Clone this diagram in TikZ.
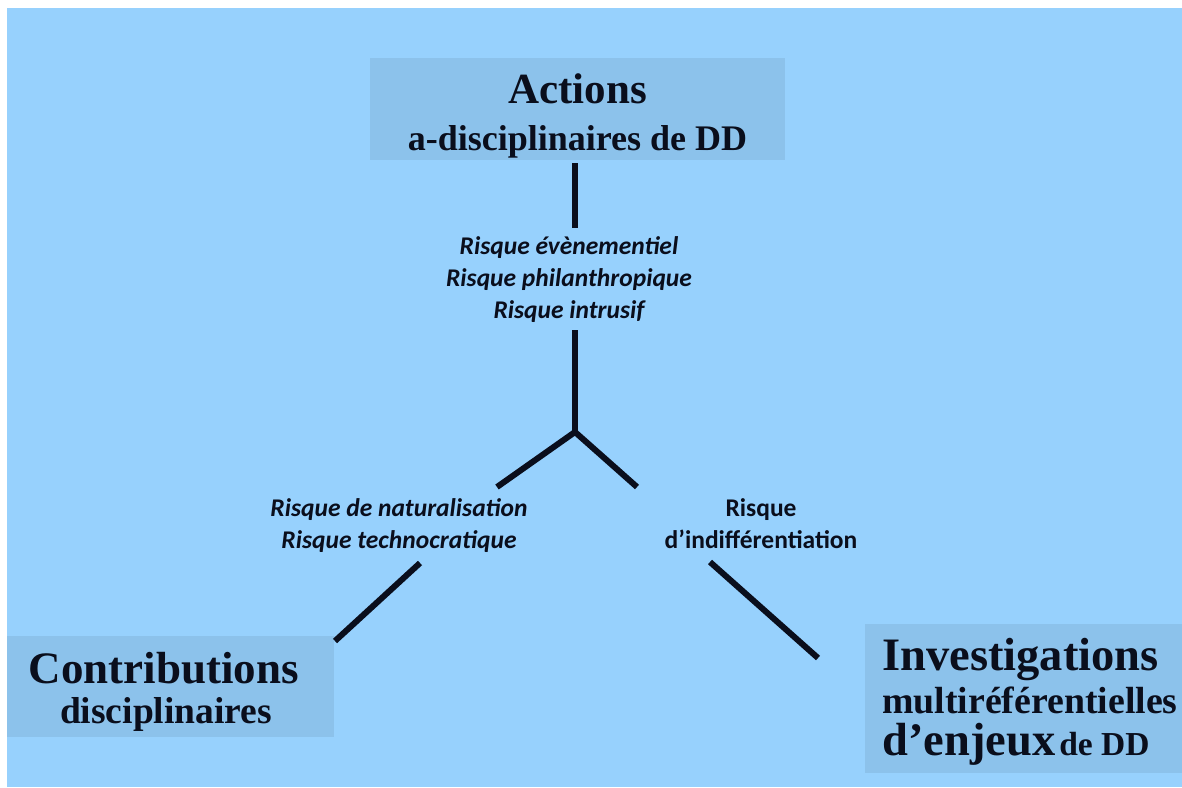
\documentclass[tikz,border=0pt]{standalone}
\usepackage{fontspec}
\setmainfont{Liberation Serif}
\newfontfamily\labelfont{Carlito}
\definecolor{bgblue}{RGB}{151,209,253}
\definecolor{boxblue}{RGB}{140,194,235}
\definecolor{ink}{RGB}{10,14,28}
\begin{document}
\begin{tikzpicture}[x=1pt,y=-1pt,
  panel/.style={fill=boxblue, draw=none, inner sep=0pt, anchor=north west},
  title/.style={text=ink, inner sep=0pt},
  risk/.style={font=\labelfont\bfseries\itshape\fontsize{25.5}{32}\selectfont, text=ink, align=center, inner sep=0pt},
  riskup/.style={font=\labelfont\bfseries\fontsize{25.5}{32}\selectfont, text=ink, align=center, inner sep=0pt},
  link/.style={line width=6pt, draw=ink}]
\useasboundingbox (0,0) rectangle (1182,787);
\fill[white] (0,0) rectangle (1182,787);
\fill[bgblue] (7,8) rectangle (1182,787);
% boxes
\node[panel, minimum width=415pt, minimum height=102pt] (topbox) at (370,58) {};
\node[panel, minimum width=327pt, minimum height=101pt] (leftbox) at (7,636) {};
\node[panel, minimum width=317pt, minimum height=149pt] (rightbox) at (865,624) {};
% box texts
\node[title, anchor=base, font=\bfseries\fontsize{43}{43}\selectfont] (topA) at (577.5,103) {Actions};
\node[title, anchor=base, font=\bfseries\fontsize{36}{36}\selectfont] (topB) at (577.5,150) {a-disciplinaires de DD};
\node[title, anchor=base, font=\bfseries\fontsize{45}{45}\selectfont] (leftA) at (164,683) {Contributions};
\node[title, anchor=base, font=\bfseries\fontsize{37.5}{37.5}\selectfont] (leftB) at (166,723) {disciplinaires};
\node[title, anchor=base west, font=\bfseries\fontsize{46.5}{46.5}\selectfont] (rightA) at (882,670) {Investigations};
\node[title, anchor=base west, font=\bfseries\fontsize{37.8}{37.8}\selectfont] (rightB) at (882,713) {multiréférentielles};
\node[title, anchor=base west, font=\bfseries] (rightC) at (882,755) {{\fontsize{46.5}{46.5}\selectfont d’enjeux}\hspace{4pt}{\fontsize{33.5}{33.5}\selectfont de DD}};
% risk labels (anchor base = baseline of last line)
\node[risk, anchor=base] (riskTop) at (569,318) {Risque évènementiel\\Risque philanthropique\\Risque intrusif};
\node[risk, anchor=base] (riskLeft) at (399,548) {Risque de naturalisation\\Risque technocratique};
\node[riskup, anchor=base] (riskRight) at (761,548) {Risque\\d’indifférentiation};
% connector points
\coordinate (t1) at (575,163);
\coordinate (t2) at (575,228);
\coordinate (m1) at (575,330);
\coordinate (j) at (575,432);
\coordinate (bl) at (497,487);
\coordinate (br) at (637,487);
\coordinate (l1) at (420,563);
\coordinate (l2) at (335,641);
\coordinate (r1) at (710,562);
\coordinate (r2) at (818,658);
\draw[link] (t1) -- (t2);
\draw[link] (m1) -- (j);
\draw[link] (bl) -- (j) -- (br);
\draw[link] (l1) -- (l2);
\draw[link] (r1) -- (r2);
\end{tikzpicture}
\end{document}
